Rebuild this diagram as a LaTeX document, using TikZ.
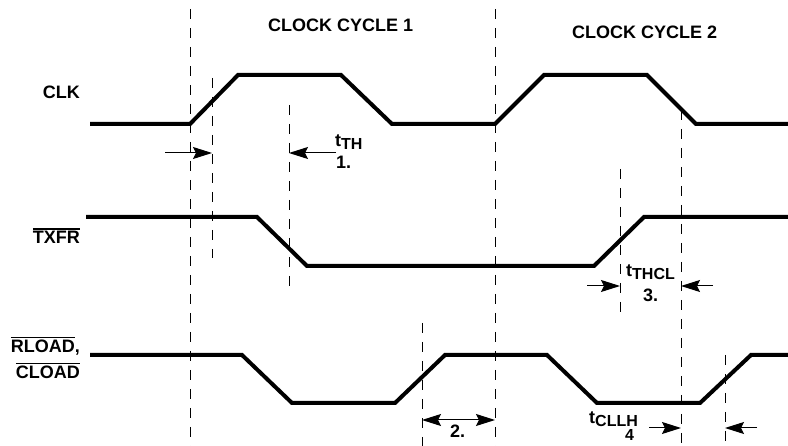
\documentclass[tikz,border=0pt]{standalone}
\usepackage{fontspec}
\setmainfont{Liberation Sans}
\usetikzlibrary{arrows.meta}
\newcommand{\tsub}[2]{t\raisebox{-0.3ex}{\fontsize{16}{18}\selectfont #2}}
\newcommand{\ovl}[1]{\setbox0\hbox{#1}\rlap{\rule[\dimexpr\ht0+2pt\relax]{\wd0}{1.4pt}}\box0}
\begin{document}
\begin{tikzpicture}[x=1pt,y=-1pt,
  sig/.style={line width=4pt,line join=miter},
  guide/.style={line width=1pt,dash pattern=on 10pt off 9pt},
  dim/.style={line width=1pt,-{Stealth[length=19pt,width=12pt,inset=3pt]}},
  ddim/.style={line width=1pt,{Stealth[length=19pt,width=12pt,inset=3pt]}-{Stealth[length=19pt,width=12pt,inset=3pt]}},
  lbl/.style={inner sep=0pt,font=\fontsize{18}{21}\selectfont\bfseries},
  lbls/.style={inner sep=0pt,font=\fontsize{16}{18}\selectfont\bfseries},
  every node/.style={inner sep=0pt}]
\useasboundingbox (0,0) rectangle (788,446);
% signals
\draw[sig] (90,124) -- (190,124) -- (238,75) -- (341,75) -- (392,124) -- (495,124) -- (544,75) -- (647,75) -- (696,124) -- (788,124);
\draw[sig] (86,217) -- (257,217) -- (307,266) -- (594,266) -- (644,217) -- (788,217);
\draw[sig] (90,355) -- (242,355) -- (292,403) -- (395,403) -- (445,355) -- (547,355) -- (597,403) -- (700,403) -- (751,355) -- (788,355);
% guide lines
\coordinate (g1t) at (190,9);   \coordinate (g1b) at (190,446);
\coordinate (g2t) at (212,78);  \coordinate (g2b) at (212,258);
\coordinate (g3t) at (289,105); \coordinate (g3b) at (289,286);
\coordinate (g4t) at (495,9);   \coordinate (g4b) at (495,446);
\coordinate (g5t) at (620,169); \coordinate (g5b) at (620,313);
\coordinate (g6t) at (681,110); \coordinate (g6b) at (681,446);
\coordinate (g7t) at (422,323); \coordinate (g7b) at (422,446);
\coordinate (g8t) at (725,355); \coordinate (g8b) at (725,446);
\foreach \g in {1,...,8} \draw[guide] (g\g t) -- (g\g b);
% dimension arrows
\coordinate (a1s) at (165,153); \coordinate (a1e) at (212,153);
\coordinate (a2s) at (336,153); \coordinate (a2e) at (289,153);
\coordinate (a3s) at (587,286); \coordinate (a3e) at (620,286);
\coordinate (a4s) at (713,286); \coordinate (a4e) at (681,286);
\coordinate (a5s) at (422,420); \coordinate (a5e) at (495,420);
\coordinate (a6s) at (649,428); \coordinate (a6e) at (681,428);
\coordinate (a7s) at (757,428); \coordinate (a7e) at (725,428);
\draw[dim] (a1s) -- (a1e);
\draw[dim] (a2s) -- (a2e);
\draw[dim] (a3s) -- (a3e);
\draw[dim] (a4s) -- (a4e);
\draw[ddim] (a5s) -- (a5e);
\draw[dim] (a6s) -- (a6e);
\draw[dim] (a7s) -- (a7e);
% labels
\node[lbl,anchor=base west] (cc1) at (268,32) {CLOCK CYCLE 1};
\node[lbl,anchor=base west] (cc2) at (572,39) {CLOCK CYCLE 2};
\node[lbl,anchor=base east] (clk) at (80,99) {CLK};
\node[lbl,anchor=base east] (txfr) at (80,244) {\ovl{TXFR}};
\node[lbl,anchor=base east] (rload) at (80,353) {\ovl{RLOAD},};
\node[lbl,anchor=base east] (cload) at (80,379) {\ovl{CLOAD}};
\node[lbl,anchor=base west] (tth) at (335,147) {\tsub{t}{TH}};
\node[lbl,anchor=base west] (n1) at (336,169) {1.};
\node[lbl,anchor=base west] (tthcl) at (626,277) {\tsub{t}{THCL}};
\node[lbl,anchor=base west] (n3) at (643,302) {3.};
\node[lbl,anchor=base west] (n2) at (450,438) {2.};
\node[lbl,anchor=base west] (tcllh) at (589,424) {\tsub{t}{CLLH}};
\node[lbls,anchor=base west] (n4) at (625,441) {4};
\end{tikzpicture}
\end{document}
